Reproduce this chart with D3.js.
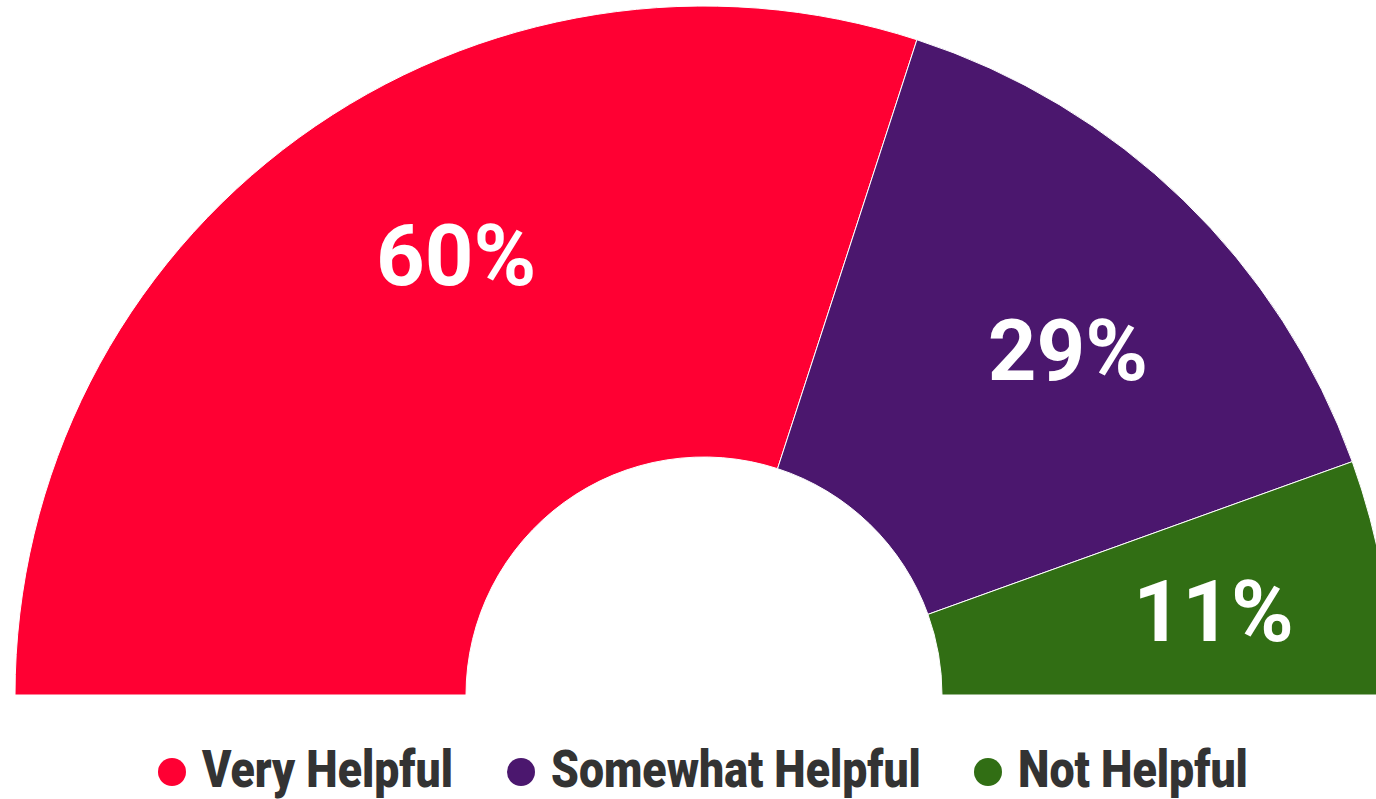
<!DOCTYPE html>
<html><head><meta charset="utf-8">
<script src="https://cdn.jsdelivr.net/npm/d3@7/dist/d3.min.js"></script>
<style>html,body{margin:0;padding:0;background:#fff;overflow:hidden}</style>
</head><body><svg id="c" width="1376" height="799"></svg>
<script>
const categories = ["Very Helpful", "Somewhat Helpful", "Not Helpful"];
const values = [60, 29, 11];
const labels = ["60%", "29%", "11%"];
const colors = ["#FF0033", "#4B176E", "#316E14"];

const svg = d3.select("#c");
const cx = 704, cy = 695, rOuter = 689, rInner = 238;
const g = svg.append("g").attr("transform", `translate(${cx},${cy})`);

const pie = d3.pie().sort(null).startAngle(-Math.PI/2).endAngle(Math.PI/2);
const arcs = pie(values);
const arc = d3.arc().innerRadius(rInner).outerRadius(rOuter);
g.selectAll("path.slice").data(arcs).enter().append("path")
  .attr("class","slice").attr("d", arc)
  .attr("fill", (d,i)=>colors[i]).attr("stroke","#fff").attr("stroke-width",1);

const labelArc = d3.arc().innerRadius(500).outerRadius(500);
const nudge = [[46,-36],[16,13],[17,1]];
g.selectAll("text.lbl").data(arcs).enter().append("text")
  .attr("class","lbl")
  .attr("transform",(d,i)=>{const c=labelArc.centroid(d);return `translate(${c[0]+nudge[i][0]},${c[1]+nudge[i][1]})`;})
  .attr("text-anchor","middle").attr("dy","0.36em")
  .attr("fill","#fff").attr("font-family","Roboto, 'Open Sans', sans-serif")
  .attr("font-weight",700).attr("font-size",85)
  .text((d,i)=>labels[i]);

// legend
const legendX = [172, 521, 988];
const legendW = [251, 370, 230];
const lg = svg.append("g");
categories.forEach((c,i)=>{
  lg.append("circle").attr("cx",legendX[i]).attr("cy",772).attr("r",14).attr("fill",colors[i]);
  const t = lg.append("text").attr("x",0).attr("y",0)
    .attr("font-family","Roboto, sans-serif")
    .attr("font-weight",900).attr("font-size",51).attr("fill","#333").text(c);
  const w = t.node().getComputedTextLength();
  t.attr("transform",`translate(${legendX[i]+30},787) scale(${legendW[i]/w},1)`);
});
</script></body></html>
